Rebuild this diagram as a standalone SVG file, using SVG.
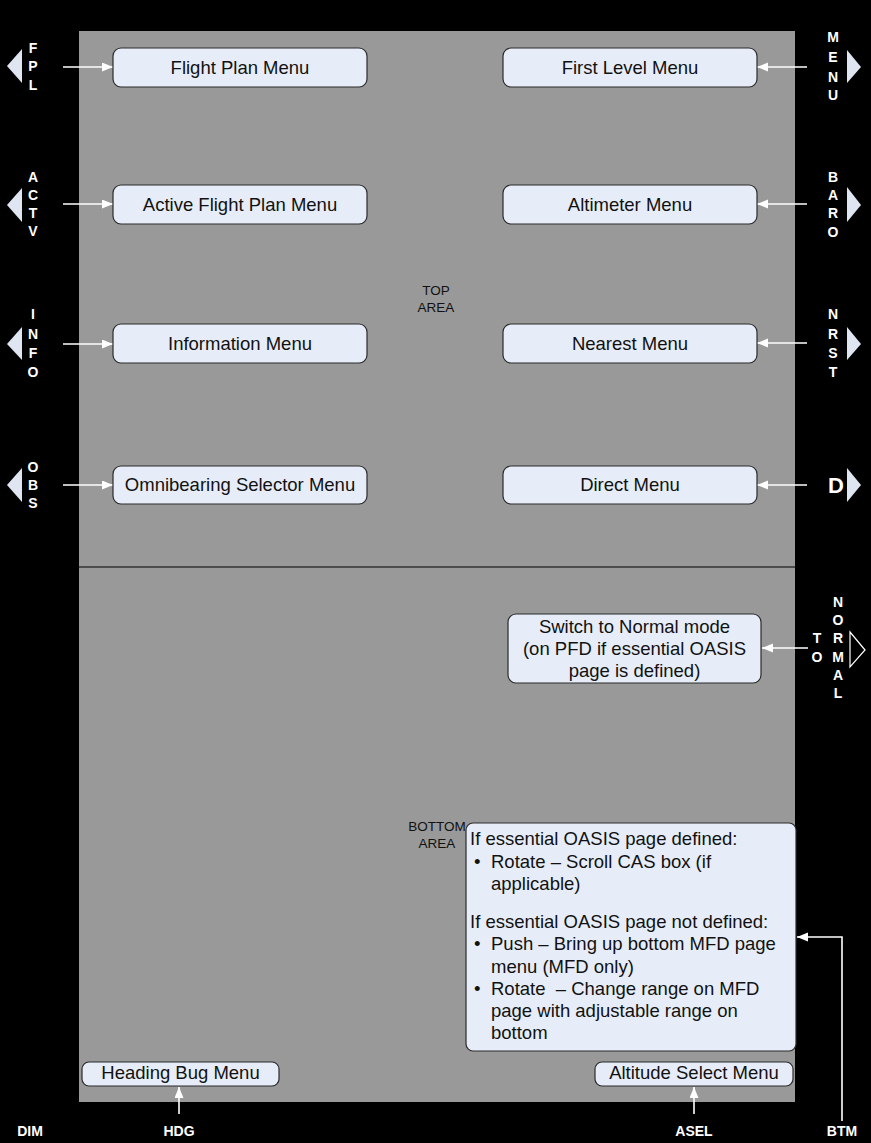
<svg xmlns="http://www.w3.org/2000/svg" width="871" height="1143" viewBox="0 0 871 1143">
<style>
.box{fill:#e7edf8;stroke:#2b2b2b;stroke-width:1.2}
.t{font-family:"Liberation Sans",Arial,sans-serif;font-size:18.5px;fill:#111;text-anchor:middle}
.tl{font-family:"Liberation Sans",Arial,sans-serif;font-size:18.5px;fill:#111}
.k{font-family:"Liberation Sans",Arial,sans-serif;font-size:14px;font-weight:bold;fill:#fff;text-anchor:middle}
.a{font-family:"Liberation Sans",Arial,sans-serif;font-size:13.5px;fill:#111;text-anchor:middle}
.tri{fill:#dfe6f2}
.c{stroke:#fff;stroke-width:1.6;fill:none;marker-end:url(#ah)}
</style>
<defs>
<marker id="ah" markerUnits="userSpaceOnUse" markerWidth="12" markerHeight="10" refX="11" refY="4.5" orient="auto">
<path d="M0,0 L11,4.5 L0,9 z" fill="#fff"/>
</marker>
</defs>
<rect x="0" y="0" width="871" height="1143" fill="#000"/>
<rect x="79" y="31" width="716" height="1071" fill="#999"/>
<line x1="79" y1="567" x2="795" y2="567" stroke="#000" stroke-width="1.2"/>
<g id="area-labels">
<text class="a" x="436" y="295">TOP</text>
<text class="a" x="436" y="312">AREA</text>
<text class="a" x="437" y="831">BOTTOM</text>
<text class="a" x="437" y="848">AREA</text>
</g>
<g id="bezel-keys">
<polygon class="tri" points="7,66 22,49 22,83"/>
<text class="k" x="33" y="53">F</text><text class="k" x="33" y="71">P</text><text class="k" x="33" y="90">L</text>
<polygon class="tri" points="7,205 22,188 22,222"/>
<text class="k" x="33" y="182">A</text><text class="k" x="33" y="200">C</text><text class="k" x="33" y="218">T</text><text class="k" x="33" y="236">V</text>
<polygon class="tri" points="7,344 22,327 22,360"/>
<text class="k" x="33" y="319">I</text><text class="k" x="33" y="339">N</text><text class="k" x="33" y="358">F</text><text class="k" x="33" y="377">O</text>
<polygon class="tri" points="7,485 22,468 22,502"/>
<text class="k" x="33" y="472">O</text><text class="k" x="33" y="490">B</text><text class="k" x="33" y="508">S</text>
<polygon class="tri" points="861,67 847,50 847,83"/>
<text class="k" x="833" y="42">M</text><text class="k" x="833" y="62">E</text><text class="k" x="833" y="82">N</text><text class="k" x="833" y="100">U</text>
<polygon class="tri" points="861,205 847,187 847,222"/>
<text class="k" x="833" y="182">B</text><text class="k" x="833" y="200">A</text><text class="k" x="833" y="218">R</text><text class="k" x="833" y="237">O</text>
<polygon class="tri" points="861,344 847,327 847,360"/>
<text class="k" x="833" y="319">N</text><text class="k" x="833" y="339">R</text><text class="k" x="833" y="358">S</text><text class="k" x="833" y="377">T</text>
<polygon class="tri" points="861,485 847,468 847,502"/>
<text class="k" x="836" y="493" style="font-size:22px">D</text>
<polygon points="865,650 850,632 850,667" fill="#000" stroke="#fff" stroke-width="1.2"/>
<text class="k" x="838" y="607">N</text><text class="k" x="838" y="625">O</text><text class="k" x="838" y="643">R</text><text class="k" x="838" y="662">M</text><text class="k" x="838" y="680">A</text><text class="k" x="838" y="698">L</text>
<text class="k" x="817" y="643">T</text><text class="k" x="817" y="662">O</text>
<text class="k" x="30" y="1136">DIM</text>
<text class="k" x="179" y="1136">HDG</text>
<text class="k" x="694" y="1136">ASEL</text>
<text class="k" x="842" y="1136">BTM</text>
</g>
<g id="connectors">
<line class="c" x1="63" y1="67" x2="113" y2="67"/>
<line class="c" x1="63" y1="204" x2="113" y2="204"/>
<line class="c" x1="63" y1="344" x2="113" y2="344"/>
<line class="c" x1="63" y1="485" x2="113" y2="485"/>
<line class="c" x1="807" y1="67" x2="757" y2="67"/>
<line class="c" x1="807" y1="204" x2="757" y2="204"/>
<line class="c" x1="807" y1="343" x2="757" y2="343"/>
<line class="c" x1="807" y1="485" x2="757" y2="485"/>
<line class="c" x1="808" y1="648" x2="762" y2="648"/>
<line class="c" x1="179" y1="1114" x2="179" y2="1087"/>
<line class="c" x1="694" y1="1114" x2="694" y2="1087"/>
<polyline class="c" points="842,1121 842,937 797,937"/>
</g>
<g id="flight-plan-menu"><rect class="box" x="113" y="48" width="254" height="39" rx="8"/><text class="t" x="240" y="74">Flight Plan Menu</text></g>
<g id="active-flight-plan-menu"><rect class="box" x="113" y="185" width="254" height="39" rx="8"/><text class="t" x="240" y="211">Active Flight Plan Menu</text></g>
<g id="information-menu"><rect class="box" x="113" y="324" width="254" height="39" rx="8"/><text class="t" x="240" y="350">Information Menu</text></g>
<g id="obs-menu"><rect class="box" x="113" y="466" width="254" height="38" rx="8"/><text class="t" x="240" y="491">Omnibearing Selector Menu</text></g>
<g id="first-level-menu"><rect class="box" x="503" y="48" width="254" height="39" rx="8"/><text class="t" x="630" y="74">First Level Menu</text></g>
<g id="altimeter-menu"><rect class="box" x="503" y="185" width="254" height="39" rx="8"/><text class="t" x="630" y="211">Altimeter Menu</text></g>
<g id="nearest-menu"><rect class="box" x="503" y="324" width="254" height="39" rx="8"/><text class="t" x="630" y="350">Nearest Menu</text></g>
<g id="direct-menu"><rect class="box" x="503" y="466" width="254" height="38" rx="8"/><text class="t" x="630" y="491">Direct Menu</text></g>
<g id="normal-mode"><rect class="box" x="508" y="614" width="253" height="69" rx="8"/>
<text class="t" x="634.5" y="633">Switch to Normal mode</text>
<text class="t" x="634.5" y="655">(on PFD if essential OASIS</text>
<text class="t" x="634.5" y="677">page is defined)</text></g>
<g id="bottom-knob"><rect class="box" x="466" y="823" width="330" height="228" rx="7"/>
<text class="tl" x="470" y="845">If essential OASIS page defined:</text>
<text class="tl" x="474" y="868">•</text><text class="tl" x="491" y="868">Rotate – Scroll CAS box (if</text>
<text class="tl" x="491" y="890">applicable)</text>
<text class="tl" x="470" y="928">If essential OASIS page not defined:</text>
<text class="tl" x="474" y="950">•</text><text class="tl" x="491" y="950">Push – Bring up bottom MFD page</text>
<text class="tl" x="491" y="973">menu (MFD only)</text>
<text class="tl" x="474" y="995">•</text><text class="tl" x="491" y="995" xml:space="preserve">Rotate  – Change range on MFD</text>
<text class="tl" x="491" y="1017">page with adjustable range on</text>
<text class="tl" x="491" y="1039">bottom</text></g>
<g id="heading-bug-menu"><rect class="box" x="82" y="1062" width="197" height="24" rx="7"/><text class="t" x="180.5" y="1079">Heading Bug Menu</text></g>
<g id="altitude-select-menu"><rect class="box" x="595" y="1062" width="198" height="24" rx="7"/><text class="t" x="694" y="1079">Altitude Select Menu</text></g>
</svg>
